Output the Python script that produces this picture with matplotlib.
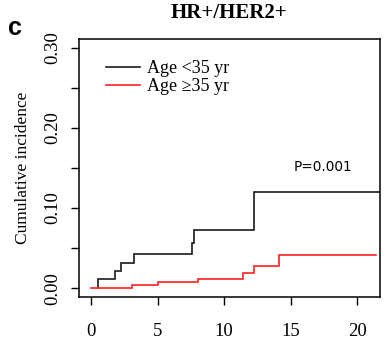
import matplotlib
matplotlib.use("Agg")
import matplotlib.pyplot as plt

# Data
young_t = [0.5, 1.8, 2.25, 3.2, 7.6, 7.7, 12.26, 21.75]
young_v = [0.0, 0.011, 0.021, 0.032, 0.043, 0.057, 0.072, 0.120]
old_t = [0.0, 3.05, 5.0, 8.0, 11.45, 12.26, 14.1, 21.4]
old_v = [0.0, 0.0035, 0.008, 0.0115, 0.019, 0.028, 0.041, 0.041]
labels = ["Age <35 yr", "Age \u226535 yr"]
colors = ["#1a1a1a", "#ff2020"]
xticks = [0, 5, 10, 15, 20]
yticks = [0.00, 0.05, 0.10, 0.15, 0.20, 0.25, 0.30]
ytick_labels = ["0.00", "", "0.10", "", "0.20", "", "0.30"]

serif = ["Liberation Serif", "DejaVu Serif"]
plt.rcParams['font.family'] = serif

fig = plt.figure(figsize=(3.86, 3.45), dpi=100)
ax = fig.add_axes([79/386, 1-297/345, 301/386, 258/345])

# young: jumps at times young_t[0..6] to values young_v[1..7]
xs = [young_t[0]]; ys = [young_v[0]]
for i in range(len(young_t) - 1):
    xs.append(young_t[i]); ys.append(young_v[i + 1])
    xs.append(young_t[i + 1]); ys.append(young_v[i + 1])
ax.plot(xs, ys, color=colors[0], lw=1.2, label=labels[0], solid_joinstyle='miter')

xs = [old_t[0]]; ys = [old_v[0]]
for i in range(1, len(old_t)):
    xs.append(old_t[i]); ys.append(old_v[i - 1])
    xs.append(old_t[i]); ys.append(old_v[i])
ax.plot(xs, ys, color=colors[1], lw=1.2, label=labels[1], solid_joinstyle='miter')

ax.set_xlim(-0.9, 21.7)
ax.set_ylim(-0.011, 0.311)
ax.set_xticks(xticks)
ax.set_xticklabels([str(x) for x in xticks])
ax.set_yticks(yticks)
ax.set_yticklabels(ytick_labels, rotation=90, va='center')
ax.tick_params(axis='both', direction='out', length=5.5, width=1.0, labelsize=13.5)
ax.tick_params(axis='x', pad=13)
ax.tick_params(axis='y', pad=7)
for s in ax.spines.values():
    s.set_linewidth(1.1)

ax.set_ylabel("Cumulative incidence", fontsize=12.5, labelpad=10)
fig.text(229/386, 1-13/345, "HR+/HER2+", fontsize=15, fontweight='bold',
         ha='center', va='center', family=serif)
fig.text(15/386, 1-28/345, "c", fontsize=18, fontweight='bold',
         ha='center', va='center', family=['Liberation Sans', 'DejaVu Sans'])
ax.text(15.2, 0.151, "P=0.001", fontsize=9.8, ha='left', va='center',
        family=['DejaVu Sans'])

ax.legend(loc='upper left', bbox_to_anchor=(0.065, 0.945), frameon=False,
          fontsize=13, handlelength=1.9, handletextpad=0.4, labelspacing=0.05,
          borderaxespad=0)

fig.savefig("out.png", dpi=100)
